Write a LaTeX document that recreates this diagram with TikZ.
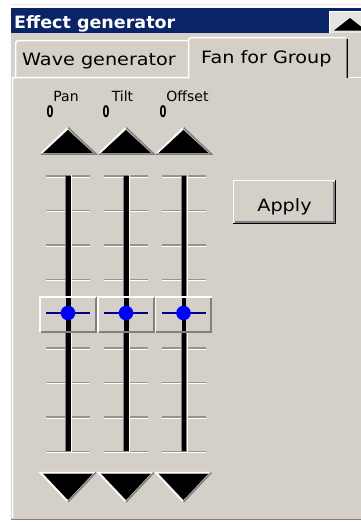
\documentclass[tikz,border=0pt]{standalone}
\usepackage{fontspec}
\newfontfamily\uifont{DejaVu Sans}[FakeStretch=1.13]
\newfontfamily\titlefont{DejaVu Sans}[FakeStretch=1.03]
\newfontfamily\smallfont{DejaVu Sans}
\definecolor{winbg}{HTML}{D4D0C8}
\definecolor{navy}{HTML}{0A246A}
\definecolor{darkshade}{HTML}{808080}
\definecolor{tickgrey}{HTML}{96948F}
\definecolor{checker}{HTML}{E6E4E0}
\definecolor{thumbline}{HTML}{00008C}
\tikzset{
  uitext/.style={inner sep=0pt, anchor=base west, font=\uifont\fontsize{17}{17}\selectfont},
  smalltext/.style={inner sep=0pt, anchor=base, font=\smallfont\fontsize{14}{14}\selectfont},
  zerotext/.style={inner sep=0pt, anchor=base west, font=\smallfont\bfseries\fontsize{16}{16}\selectfont},
  hilite/.style={white, line width=1.5pt},
  shadowline/.style={darkshade, line width=1.5pt},
}
\newcommand{\mkslider}[1]{%
  \foreach \ty in {176,210.4,244.8,279.2,313.6,348,382.4,416.8,451.2} {
    \draw[tickgrey, line width=1.4pt] (#1-22,\ty) -- (#1+22,\ty);
    \draw[white, line width=1pt] (#1-22,\ty+1.4) -- (#1+22,\ty+1.4);
  }
  \fill[white] (#1-3,175) rectangle (#1+4,453);
  \fill[darkshade] (#1-3,175) rectangle (#1+3,452);
  \fill[black] (#1-2,176) rectangle (#1+2.5,451);
  % thumb
  \fill[winbg] (#1-28.5,296) rectangle (#1+28.5,333);
  \draw[darkshade, line width=2pt] (#1-27.5,332) -- (#1+27.5,332) -- (#1+27.5,297);
  \draw[white, line width=1.5pt] (#1-28,332) -- (#1-28,296.8) -- (#1+28,296.8);
  \fill[black] (#1-2,298) rectangle (#1+2.5,331);
  \draw[thumbline, line width=1.2pt] (#1-22,313) -- (#1+22,313);
  \fill[blue] (#1,313) circle (7.3);
  % up arrow
  \fill[black] (#1,130) -- (#1+25,153) -- (#1-25,153) -- cycle;
  \draw[hilite] (#1-27.5,154) -- (#1,127.5);
  \draw[shadowline] (#1,127.5) -- (#1+28,154) -- (#1-27.5,154);
  % down arrow
  \fill[black] (#1-25,473.5) -- (#1+25,473.5) -- (#1,500) -- cycle;
  \draw[hilite] (#1,502) -- (#1-28,472.5) -- (#1+28,472.5);
  \draw[shadowline] (#1+28,472.5) -- (#1,502);
}
\begin{document}
\begin{tikzpicture}[x=1pt,y=-1pt]
\useasboundingbox (0,0) rectangle (361,522);
\fill[white] (0,0) rectangle (361,522);
\draw[checker, line width=1pt] (11,4) -- (361,4);
% title bar
\fill[navy] (11,8) rectangle (361,33);
\node[inner sep=0pt, anchor=base west, text=white, font=\titlefont\bfseries\fontsize{17}{17}\selectfont] (title) at (14,28) {Effect generator};
% title button
\fill[checker] (329,11) rectangle (361,33);
\draw[white, line width=1.5pt] (329.7,33) -- (329.7,11.7) -- (361,11.7);
\fill[black] (350,18) -- (366,30.5) -- (334,30.5) -- cycle;
% panel
\fill[winbg] (11,33) rectangle (361,519);
\draw[darkshade, line width=1.5pt] (11,519.5) -- (361,519.5);
% wave tab
\draw[white, line width=1.5pt] (15.7,77) -- (15.7,42.5) -- (17.5,40.7) -- (188,40.7);
\node[uitext] (wavetab) at (22,65.7) {Wave generator};
% selected tab
\fill[winbg] (188,37) rectangle (348,79);
\draw[white, line width=1.5pt] (12.7,518) -- (12.7,77.7) -- (188.7,77.7) -- (188.7,39.5) -- (190.5,37.7) -- (345.5,37.7);
\draw[darkshade, line width=1.2pt] (346.2,39) -- (346.2,77.5);
\draw[black, line width=1.2pt] (347.6,39) -- (347.6,77.5);
\draw[white, line width=1.5pt] (348.5,77.7) -- (361,77.7);
\node[uitext] (fantab) at (201,63) {Fan for Group};
% labels
\node[smalltext] (pan) at (66,101) {Pan};
\node[smalltext] (tilt) at (122.5,101) {Tilt};
\node[smalltext] (offset) at (187.5,101) {Offset};
\node[zerotext] (panval) at (46.5,117) {\scalebox{0.62}[1]{0}};
\node[zerotext] (tiltval) at (102.5,117) {\scalebox{0.62}[1]{0}};
\node[zerotext] (offsetval) at (159.5,117) {\scalebox{0.62}[1]{0}};
% sliders
\mkslider{68}
\mkslider{126}
\mkslider{183.5}
% apply button
\fill[winbg] (233,180) rectangle (336,224);
\draw[black, line width=1.2pt] (233,223.4) -- (335.4,223.4) -- (335.4,180);
\draw[darkshade, line width=1.2pt] (234.5,222) -- (334,222) -- (334,181.5);
\draw[white, line width=1.5pt] (233.7,222.5) -- (233.7,180.7) -- (334.5,180.7);
\node[uitext, anchor=base] (apply) at (284.5,211) {Apply};
\end{tikzpicture}
\end{document}
